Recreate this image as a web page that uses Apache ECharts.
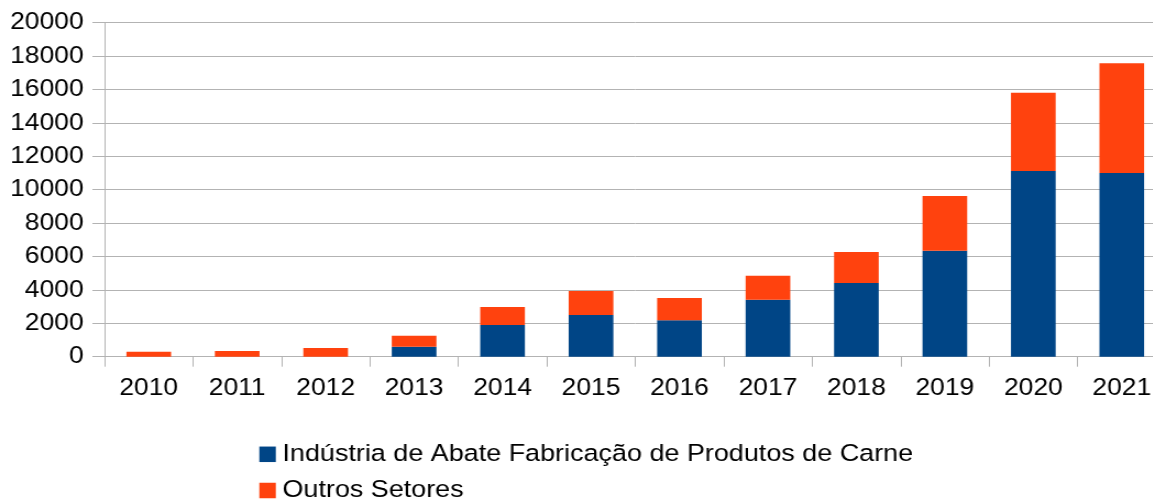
<!DOCTYPE html>
<html><head><meta charset="utf-8">
<script src="https://cdn.jsdelivr.net/npm/echarts@6/dist/echarts.min.js"></script>
<style>
html,body{margin:0;padding:0;background:#fff;overflow:hidden;width:1153px;height:499px}
#c{width:965px;height:499px;transform:scaleX(1.1);transform-origin:0 0}
</style>
</head><body><div id="c"></div>
<script>
const categories = ['2010','2011','2012','2013','2014','2015','2016','2017','2018','2019','2020','2021'];
const seriesNames = ['Indústria de Abate Fabricação de Produtos de Carne','Outros Setores'];
const industria = [0, 0, 0, 600, 1900, 2500, 2180, 3410, 4410, 6350, 11120, 11000];
const outros = [300, 340, 520, 660, 1070, 1430, 1330, 1440, 1860, 3270, 4690, 6570];
const yTicks = {min: 0, max: 20000, interval: 2000};

// layout (container is horizontally scaled by 1.1 to match the reference's stretched rendering)
const S = 1.1;
const plotLeft = 104.5 / S, plotRight = 1166.5 / S;
const el = document.getElementById('c');
el.style.width = plotRight + 'px';

const chart = echarts.init(el, null, {renderer: 'canvas'});
const font = 'Liberation Sans';
const legendBase = {
  orient: 'vertical', left: 259.3 / S, itemWidth: 16.5 / S, itemHeight: 15.5, padding: 0,
  icon: 'rect', itemGap: 0,
  textStyle: {fontFamily: font, fontSize: 24.5, lineHeight: 24, color: '#000', padding: [0, 0, 0, 1]}
};
chart.setOption({
  animation: false,
  backgroundColor: '#ffffff',
  grid: {left: plotLeft, top: 22.7, bottom: 142.3, right: 0, containLabel: false},
  legend: [
    Object.assign({}, legendBase, {top: 441.8, data: [seriesNames[0]]}),
    Object.assign({}, legendBase, {top: 478, data: [seriesNames[1]]})
  ],
  xAxis: {
    type: 'category', data: categories,
    axisLine: {show: true, lineStyle: {color: '#b3b3b3', width: 1}},
    axisTick: {show: true, length: 10, lineStyle: {color: '#b3b3b3'}},
    axisLabel: {fontFamily: font, fontSize: 24, color: '#000', margin: 20}
  },
  yAxis: {
    type: 'value', min: yTicks.min, max: yTicks.max, interval: yTicks.interval,
    axisLine: {show: true, lineStyle: {color: '#b3b3b3', width: 1}},
    axisTick: {show: true, length: 11, lineStyle: {color: '#b3b3b3'}},
    splitLine: {show: true, lineStyle: {color: '#b3b3b3', width: 1}},
    axisLabel: {fontFamily: font, fontSize: 24, color: '#000', margin: 19,
                formatter: v => String(v)}
  },
  series: [
    {name: seriesNames[0], type: 'bar', stack: 'a', data: industria, barWidth: '50.5%',
     itemStyle: {color: '#004586'}},
    {name: seriesNames[1], type: 'bar', stack: 'a', data: outros, barWidth: '50.5%',
     itemStyle: {color: '#ff420e'}}
  ]
});
</script></body></html>
